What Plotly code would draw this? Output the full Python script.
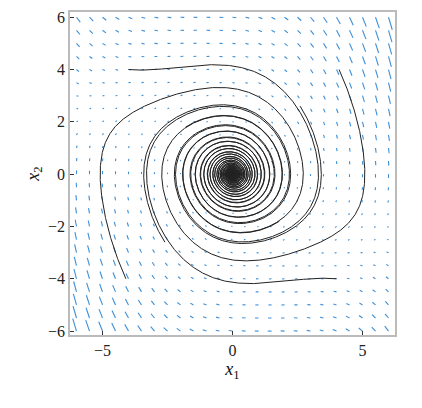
import numpy as np
import plotly.graph_objects as go

# stabilized van der Pol: x1' = x2, x2' = -x1 + mu*(1-x1^2)*x2 - k*x2
mu = 0.06
k = 0.2

# initial conditions
x1_start = [-4.0, 4.0, -4.1, 4.1, -2.6, 2.6, -1.8, 1.8]
x2_start = [4.0, -4.0, -4.0, 4.0, -2.6, 2.6, 1.8, -1.8]

grid_ticks = np.arange(-6, 6.01, 0.5)
SERIF = "Liberation Serif"


def f(s):
    x1, x2 = s
    return np.array([x2, -x1 + mu * (1 - x1 ** 2) * x2 - k * x2])


def simulate(s0, dt=0.005, T=60):
    s = np.array(s0, float)
    pts = [s.copy()]
    for _ in range(int(T / dt)):
        a = f(s); b = f(s + dt / 2 * a); c = f(s + dt / 2 * b); d = f(s + dt * c)
        s = s + dt / 6 * (a + 2 * b + 2 * c + d)
        pts.append(s.copy())
        if abs(s[0]) > 7 or abs(s[1]) > 7:
            break
    return np.array(pts)


fig = go.Figure()

# vector field
X, Y = np.meshgrid(grid_ticks, grid_ticks)
U, V = f((X, Y))
mag = np.hypot(U, V).max()
sc = 0.5 / mag
qx, qy = [], []
for x, y, u, v in zip(X.ravel(), Y.ravel(), U.ravel(), V.ravel()):
    u2, v2 = u * sc, v * sc
    if np.hypot(u2, v2) < 0.04:
        u2, v2 = 0.04, 0
    qx += [x, x + u2, None]
    qy += [y, y + v2, None]
fig.add_trace(go.Scatter(x=qx, y=qy, mode="lines", line=dict(color="#3D8FD6", width=1.1),
                         hoverinfo="skip", showlegend=False))

for a, b in zip(x1_start, x2_start):
    p = simulate([a, b])
    fig.add_trace(go.Scatter(x=p[:, 0], y=p[:, 1], mode="lines", line=dict(color="#222222", width=1),
                             showlegend=False))

ax = dict(showgrid=False, zeroline=False, mirror=True, showline=True, linecolor="#bbbbbb", linewidth=1.5,
          ticks="inside", ticklen=4, tickcolor="#333333", tickfont=dict(family=SERIF, size=16, color="#222"))
fig.update_xaxes(range=[-6.25, 6.25], tickvals=[-5, 0, 5], title=dict(text="<i>x</i><sub>1</sub>", standoff=2,
                 font=dict(family=SERIF, size=18)), **ax)
fig.update_yaxes(range=[-6.15, 6.2], tickvals=[-6, -4, -2, 0, 2, 4, 6], title=dict(text="<i>x</i><sub>2</sub>",
                 standoff=4, font=dict(family=SERIF, size=18)), **ax)
fig.add_annotation(text="der Pol oscillator stabilized by propo", x=-0.04, y=-0.255, xref="paper", yref="paper",
                   xanchor="left", yanchor="top", showarrow=False, font=dict(family=SERIF, size=19, color="#111"))
fig.update_layout(width=422, height=408, margin=dict(l=62, r=35, t=2, b=81), plot_bgcolor="white",
                  paper_bgcolor="white", font=dict(family=SERIF, color="#111"))
fig.write_html("out.html")
